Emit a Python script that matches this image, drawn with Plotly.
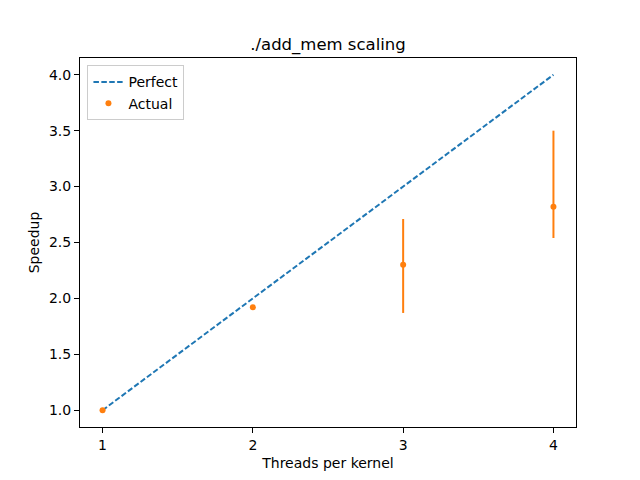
import plotly.graph_objects as go

# thread counts and measured speedup
threads = [1, 2, 3, 4]
perfect = [1.0, 2.0, 3.0, 4.0]
actual = [1.0, 1.92, 2.30, 2.82]
err_plus = [0.0, 0.0, 0.41, 0.68]
err_minus = [0.0, 0.0, 0.43, 0.28]

blue = "#1f77b4"
orange = "#ff7f0e"

fig = go.Figure()

fig.add_trace(go.Scatter(
    x=threads, y=perfect, name="Perfect", mode="lines",
    line=dict(color=blue, width=2, dash="5.5px,2.4px"),
))

fig.add_trace(go.Scatter(
    x=threads, y=actual, name="Actual", mode="markers",
    marker=dict(color=orange, size=6),
    error_y=dict(type="data", symmetric=False, array=err_plus,
                 arrayminus=err_minus, color=orange, thickness=2, width=0),
))

axis_style = dict(
    showgrid=False, zeroline=False, showline=True, mirror=True,
    linecolor="black", linewidth=1, ticks="outside", ticklen=5,
    tickcolor="black", tickfont=dict(size=14, color="black"),
    automargin=False,
)

# page body adds an 8px margin, so the figure is sized to fit inside it
fig.update_layout(
    width=624, height=464,
    margin=dict(l=72, r=56, t=50, b=45),
    paper_bgcolor="white", plot_bgcolor="white",
    font=dict(family="DejaVu Sans", size=14, color="black"),
    title=dict(text="./add_mem scaling", x=0.5, xref="paper", xanchor="center",
               y=0.922, yanchor="middle", font=dict(size=16.5)),
    xaxis=dict(axis_style, range=[0.85, 4.15], tickvals=threads,
               title=dict(text="Threads per kernel", standoff=6,
                          font=dict(size=14))),
    yaxis=dict(axis_style, range=[0.85, 4.15], dtick=0.5, tickformat=".1f",
               title=dict(text="Speedup", standoff=6, font=dict(size=14))),
    legend=dict(x=0.015, y=0.98, xanchor="left", yanchor="top",
                bgcolor="rgba(255,255,255,0.8)", bordercolor="#cccccc",
                borderwidth=1, font=dict(size=14), tracegroupgap=0),
    showlegend=True,
)

fig.write_html("out.html")
